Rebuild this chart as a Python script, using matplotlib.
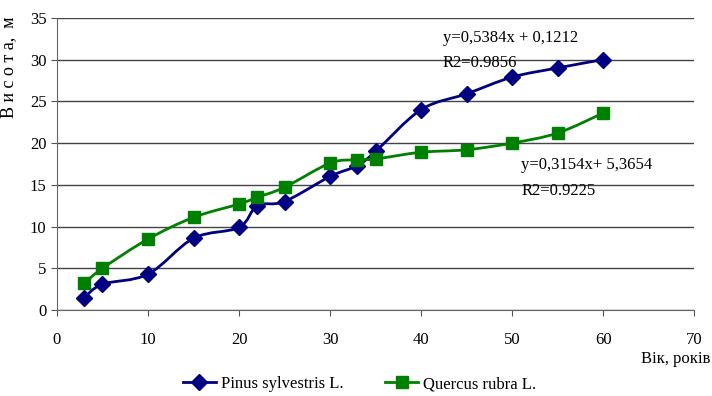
import numpy as np
import matplotlib
matplotlib.use("Agg")
from matplotlib import pyplot as plt
from matplotlib.path import Path
from matplotlib.patches import PathPatch
from matplotlib.lines import Line2D

age = [3, 5, 10, 15, 20, 22, 25, 30, 33, 35, 40, 45, 50, 55, 60]
pinus = [1.5, 3.1, 4.3, 8.6, 9.9, 12.5, 13.0, 16.0, 17.3, 19.0, 24.0, 25.9, 27.9, 29.0, 30.0]
quercus = [3.2, 5.0, 8.5, 11.1, 12.7, 13.5, 14.7, 17.6, 18.0, 18.1, 18.9, 19.2, 20.0, 21.2, 23.6]
names = ["Pinus sylvestris L.", "Quercus rubra L."]
colors = ["#000080", "#008000"]
markers = ["D", "s"]

plt.rcParams['font.family'] = ['Liberation Serif', 'DejaVu Serif']


def smooth_path(x, y, t=0.5):
    """Bezier path through the points, like Excel's smoothed line"""
    x = np.asarray(x, float)
    y = np.asarray(y, float)
    verts = [(x[0], y[0])]
    codes = [Path.MOVETO]
    n = len(x)
    for i in range(n - 1):
        x0, y0 = (x[i - 1], y[i - 1]) if i > 0 else (x[i], y[i])
        x3, y3 = (x[i + 2], y[i + 2]) if i + 2 < n else (x[i + 1], y[i + 1])
        c1 = (x[i] + (x[i + 1] - x0) * t / 3, y[i] + (y[i + 1] - y0) * t / 3)
        c2 = (x[i + 1] - (x3 - x[i]) * t / 3, y[i + 1] - (y3 - y[i]) * t / 3)
        verts += [c1, c2, (x[i + 1], y[i + 1])]
        codes += [Path.CURVE4] * 3
    return Path(verts, codes)


fig = plt.figure(figsize=(7.12, 3.96), dpi=100)
ax = fig.add_axes([0.080, 0.217, 0.895, 0.738])

for vals, c, m in zip([pinus, quercus], colors, markers):
    ax.add_patch(PathPatch(smooth_path(age, vals), fill=False, edgecolor=c, lw=2, zorder=3))
    ax.plot(age, vals, ls='none', marker=m, color=c, ms=8 if m == 'D' else 8.5, zorder=4)

ax.set_xlim(0, 70)
ax.set_ylim(0, 35)
ax.set_xticks(range(0, 71, 10))
ax.set_yticks(range(0, 36, 5))
ax.tick_params(labelsize=12, direction='out', length=4, color='#555555')
ax.tick_params(axis='x', pad=12)
ax.yaxis.grid(True, color='#444444', lw=1)
ax.set_axisbelow(True)
for s in ['top', 'right']:
    ax.spines[s].set_visible(False)
for s in ['left', 'bottom']:
    ax.spines[s].set_color('#666666')

ax.set_ylabel("В и с о т а,  м", fontsize=13, labelpad=6)
ax.yaxis.set_label_coords(-0.062, 0.83)
fig.text(0.998, 0.113, "Вік, років", fontsize=12, ha='right', va='top')

ax.text(42.4, 32.6, "y=0,5384x + 0,1212", fontsize=12, va='center')
ax.text(42.4, 29.6, "R2=0.9856", fontsize=12, va='center')
ax.text(51.0, 17.4, "y=0,3154x+ 5,3654", fontsize=12, va='center')
ax.text(51.0, 14.2, "R2=0.9225", fontsize=12, va='center')

handles = [Line2D([], [], color=c, marker=m, lw=2, ms=8) for c, m in zip(colors, markers)]
fig.legend(handles, names, loc='center', bbox_to_anchor=(0.505, 0.03), ncol=2,
           frameon=False, fontsize=12, handlelength=2, columnspacing=2.5, handletextpad=0.3)

fig.savefig("out.png", dpi=100)
